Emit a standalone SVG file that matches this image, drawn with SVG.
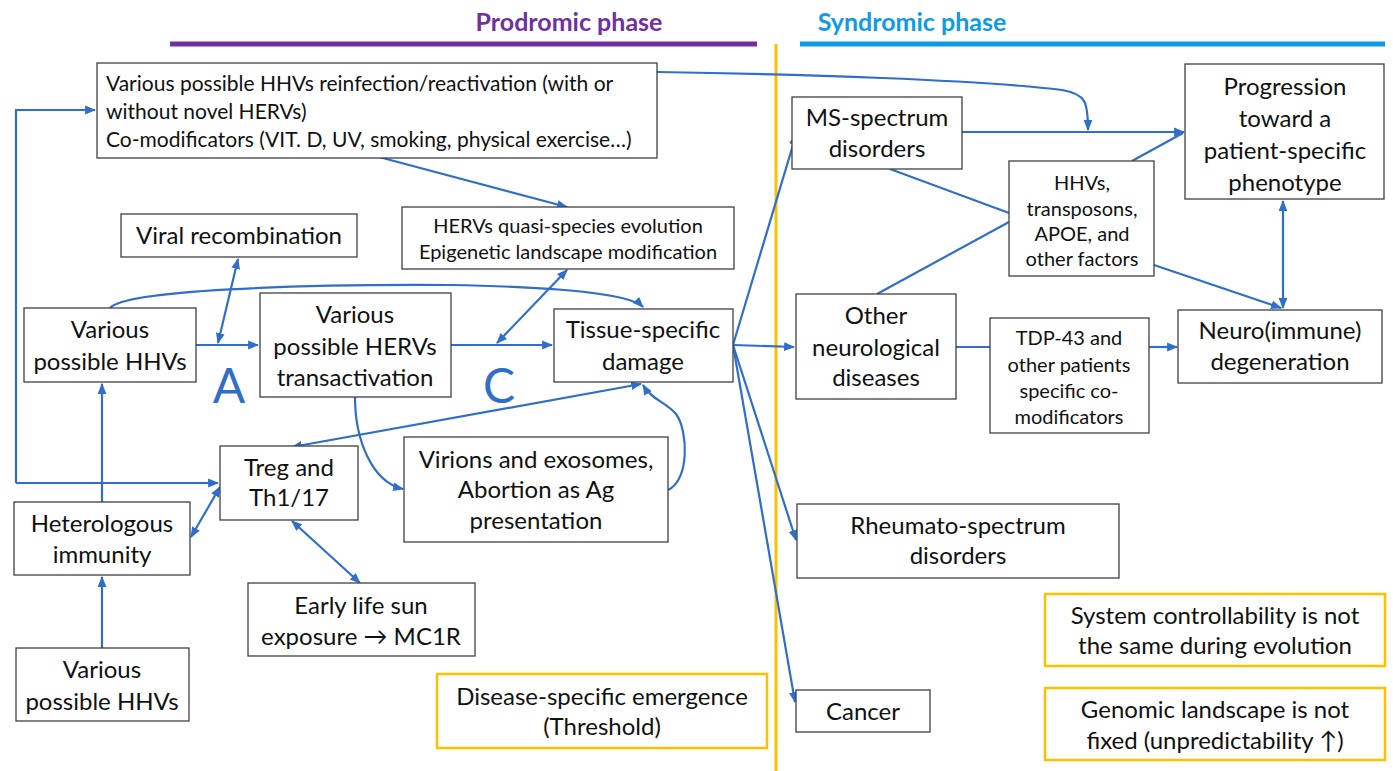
<svg xmlns="http://www.w3.org/2000/svg" width="1393" height="771" viewBox="0 0 1393 771">
<style>
text{font-family:Lato,"Liberation Sans",sans-serif;fill:#111}
.b{fill:#fff;stroke:#404040;stroke-width:1.3}
.o{fill:#fff;stroke:#FFC000;stroke-width:2.5}
.t22{font-size:24px;text-anchor:middle}
.t19{font-size:21px}
.t18{font-size:20px;text-anchor:middle}
.c{fill:none;stroke:#2F6EC9;stroke-width:2.2}
.e{marker-end:url(#ah)}
.s{marker-start:url(#ahs)}
.big{font-size:48px;fill:#2F6EC9;text-anchor:middle}
.ph{font-size:25px;font-weight:bold;text-anchor:middle}
</style>
<defs>
<marker id="ah" viewBox="0 0 10 10" refX="9" refY="5" markerWidth="11" markerHeight="11" markerUnits="userSpaceOnUse" orient="auto"><path d="M0,1 L10,5 L0,9 z" fill="#2F6EC9"/></marker>
<marker id="ahs" viewBox="0 0 10 10" refX="1" refY="5" markerWidth="11" markerHeight="11" markerUnits="userSpaceOnUse" orient="auto"><path d="M10,1 L0,5 L10,9 z" fill="#2F6EC9"/></marker>
</defs>
<g id="phases">
<text class="ph" x="569" y="31" style="fill:#7030A0">Prodromic phase</text>
<line x1="170" y1="44" x2="757" y2="44" stroke="#7030A0" stroke-width="5"/>
<text class="ph" x="912" y="31" style="fill:#0E9BE6">Syndromic phase</text>
<line x1="800" y1="44" x2="1385" y2="44" stroke="#0E9BE6" stroke-width="5"/>
<line x1="776" y1="44" x2="776" y2="771" stroke="#FFC000" stroke-width="3"/>
</g>
<g id="connectors">
<path class="c e" d="M16,483 L16,110 L95,110"/>
<path class="c e" d="M16,483 L218,483"/>
<path class="c e" d="M102,502 L102,384"/>
<path class="c e" d="M102,648 L102,577"/>
<path class="c e s" d="M191,537 L220,487"/>
<path class="c e s" d="M292,521 L360,583"/>
<path class="c e s" d="M292,447 L641,384"/>
<path class="c e" d="M355,397 C355,440 372,482 403,489"/>
<path class="c e" d="M668,490 C690,480 688,430 676,414 C666,402 652,400 643,385"/>
<path class="c e" d="M196,345 L258,345"/>
<path class="c e s" d="M238,259 L218,343"/>
<path class="c e" d="M110,308 C125,290 300,284 450,285 C560,287 630,294 643,307"/>
<path class="c e" d="M451,345 L552,345"/>
<path class="c e s" d="M567,270 L497,343"/>
<path class="c e" d="M379,157 L567,207"/>
<path class="c e" d="M657,72 C800,74 980,80 1062,90 C1086,94 1088,102 1088,130"/>
<path class="c e" d="M962,132 L1184,132"/>
<path class="c" d="M1132,161 L1183,133"/>
<path class="c" d="M890,169 L1009,213"/>
<path class="c" d="M877,294 L1009,222"/>
<path class="c e" d="M1154,265 L1281,308"/>
<path class="c e s" d="M1283,201 L1283,308"/>
<path class="c" d="M956,347 L990,347"/>
<path class="c e" d="M1149,347 L1177,347"/>
<path class="c e" d="M733,345 L796,135"/>
<path class="c e" d="M733,345 L794,347"/>
<path class="c e" d="M733,345 L796,540"/>
<path class="c e" d="M733,345 L795,702"/>
</g>
<g id="labels">
<text class="big" x="229" y="403">A</text>
<text class="big" x="499" y="403">C</text>
</g>
<g id="n1"><rect class="b" x="97" y="63" width="560" height="95"/>
<text class="t19" x="106" y="91">Various possible HHVs reinfection/reactivation (with or</text>
<text class="t19" x="106" y="119">without novel HERVs)</text>
<text class="t19" x="106" y="147">Co-modificators (VIT. D, UV, smoking, physical exercise…)</text></g>
<g id="n2"><rect class="b" x="121" y="214" width="236" height="43"/><text class="t22" x="239" y="244">Viral recombination</text></g>
<g id="n3"><rect class="b" x="402" y="207" width="332" height="62"/><text class="t18" x="568" y="233">HERVs quasi-species evolution</text><text class="t18" x="568" y="259">Epigenetic landscape modification</text></g>
<g id="n4"><rect class="b" x="24" y="308" width="172" height="74"/><text class="t22" x="110" y="338">Various</text><text class="t22" x="110" y="370">possible HHVs</text></g>
<g id="n5"><rect class="b" x="260" y="293" width="191" height="104"/><text class="t22" x="355" y="323">Various</text><text class="t22" x="355" y="355">possible HERVs</text><text class="t22" x="355" y="386">transactivation</text></g>
<g id="n6"><rect class="b" x="554" y="309" width="179" height="73"/><text class="t22" x="643" y="338">Tissue-specific</text><text class="t22" x="643" y="370">damage</text></g>
<g id="n7"><rect class="b" x="220" y="446" width="138" height="74"/><text class="t22" x="289" y="476">Treg and</text><text class="t22" x="289" y="506">Th1/17</text></g>
<g id="n8"><rect class="b" x="404" y="437" width="264" height="105"/><text class="t22" x="536" y="468">Virions and exosomes,</text><text class="t22" x="536" y="498">Abortion as Ag</text><text class="t22" x="536" y="529">presentation</text></g>
<g id="n9"><rect class="b" x="14" y="502" width="176" height="73"/><text class="t22" x="102" y="532">Heterologous</text><text class="t22" x="102" y="563">immunity</text></g>
<g id="n10"><rect class="b" x="248" y="583" width="227" height="73"/><text class="t22" x="361" y="614">Early life sun</text><text class="t22" x="361" y="645">exposure → MC1R</text></g>
<g id="n11"><rect class="b" x="16" y="648" width="173" height="73"/><text class="t22" x="102" y="678">Various</text><text class="t22" x="102" y="710">possible HHVs</text></g>
<g id="n12"><rect class="o" x="437" y="674" width="330" height="74"/><text class="t22" x="602" y="705">Disease-specific emergence</text><text class="t22" x="602" y="735">(Threshold)</text></g>
<g id="n13"><rect class="b" x="792" y="97" width="170" height="72"/><text class="t22" x="877" y="126">MS-spectrum</text><text class="t22" x="877" y="157">disorders</text></g>
<g id="n14"><rect class="b" x="1185" y="64" width="199" height="135"/><text class="t22" x="1285" y="95">Progression</text><text class="t22" x="1285" y="127">toward a</text><text class="t22" x="1285" y="159">patient-specific</text><text class="t22" x="1285" y="191">phenotype</text></g>
<g id="n15"><rect class="b" x="1009" y="161" width="145" height="115"/><text class="t18" x="1082" y="190">HHVs,</text><text class="t18" x="1082" y="216">transposons,</text><text class="t18" x="1082" y="241">APOE, and</text><text class="t18" x="1082" y="266">other factors</text></g>
<g id="n16"><rect class="b" x="796" y="294" width="160" height="105"/><text class="t22" x="876" y="324">Other</text><text class="t22" x="876" y="356">neurological</text><text class="t22" x="876" y="386">diseases</text></g>
<g id="n17"><rect class="b" x="990" y="318" width="159" height="115"/><text class="t18" x="1069" y="345">TDP-43 and</text><text class="t18" x="1069" y="372">other patients</text><text class="t18" x="1069" y="398">specific co-</text><text class="t18" x="1069" y="424">modificators</text></g>
<g id="n18"><rect class="b" x="1178" y="310" width="204" height="73"/><text class="t22" x="1280" y="339">Neuro(immune)</text><text class="t22" x="1280" y="370">degeneration</text></g>
<g id="n19"><rect class="b" x="797" y="504" width="322" height="74"/><text class="t22" x="958" y="534">Rheumato-spectrum</text><text class="t22" x="958" y="564">disorders</text></g>
<g id="n20"><rect class="b" x="796" y="690" width="134" height="42"/><text class="t22" x="863" y="720">Cancer</text></g>
<g id="n21"><rect class="o" x="1045" y="594" width="340" height="72"/><text class="t22" x="1215" y="624">System controllability is not</text><text class="t22" x="1215" y="654">the same during evolution</text></g>
<g id="n22"><rect class="o" x="1045" y="688" width="340" height="72"/><text class="t22" x="1215" y="718">Genomic landscape is not</text><text class="t22" x="1215" y="749">fixed (unpredictability ↑)</text></g>
</svg>
